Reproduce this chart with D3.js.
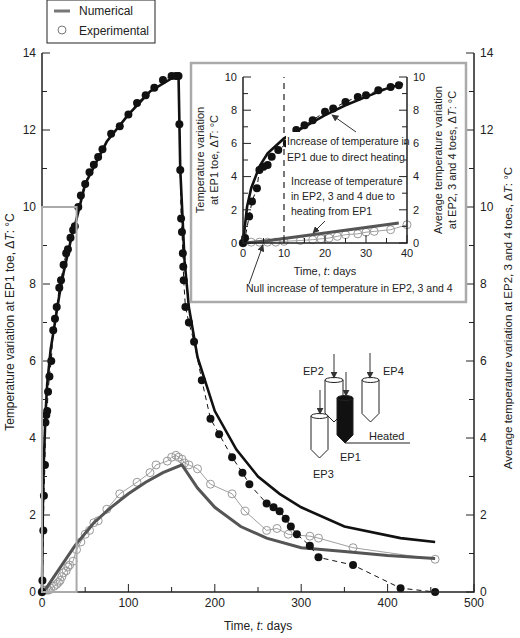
<!DOCTYPE html>
<html><head><meta charset="utf-8">
<script src="https://cdn.jsdelivr.net/npm/d3@7"></script>
<style>body{margin:0;background:#fff}text{font-family:"Liberation Sans",Arial,sans-serif;fill:#222}</style>
</head><body><div id="viz"></div>
<script>
var width = 520, height = 638;

// EP1 toe, experimental (days, dT)
var ep1Days = [0,0.5,1.5,2.2,3.4,4,5,6,7,8.6,10.7,13,15,17,20,22,25,28,30,33,36,38,42,45,50,55,60,65,70,80,90,100,110,120,130,140,150,155,158,
  159,160,161,162,163,163.5,164,166,170,176,185,195,205,220,232,240,260,268,275,282,288,295,310,320,360,415,455];
var ep1Exp = [0,0.3,1.6,2.5,3.3,4.4,4.6,4.7,5.2,5.6,6.0,6.8,7.1,7.4,7.9,8.1,8.5,8.8,8.9,9.2,9.4,9.5,10.0,10.3,10.6,10.9,11.1,11.3,11.5,11.9,12.1,12.4,12.7,12.9,13.1,13.3,13.4,13.4,13.4,
  12.15,10.96,9.7,9.35,8.8,8.45,8.1,7.4,7.0,6.5,5.5,4.5,4.1,3.5,3.1,2.8,2.3,2.2,2.1,1.9,1.7,1.5,1.2,0.9,0.7,0.1,0];
// EP1 toe, numerical
var ep1NumDays = [0,1,2,4,6,10,15,20,25,30,35,39,50,75,100,125,158,160,165,170,180,200,225,250,275,300,350,415,455];
var ep1Num = [0,2.2,3.3,4.6,5.4,6.3,7.0,7.7,8.3,8.8,9.3,9.6,10.6,11.7,12.4,13.0,13.45,11.0,8.6,7.4,6.1,4.7,3.7,3.0,2.55,2.2,1.7,1.4,1.3];
// EP2,3,4 average, experimental
var epAvgDays = [0,2,4,6,8,10,14,17,19,21,23,25,28,30,32,36,40,45,50,55,60,65,75,90,110,125,132,145,150,155,158,162,165,170,180,195,220,235,260,272,285,310,320,360,455];
var epAvgExp = [0,0.05,0.05,0.05,0.05,0.1,0.15,0.2,0.25,0.3,0.4,0.5,0.55,0.65,0.7,0.8,1.1,1.3,1.5,1.6,1.8,1.85,2.15,2.55,2.85,3.1,3.3,3.4,3.5,3.55,3.5,3.45,3.35,3.3,3.2,2.8,2.55,2.1,1.6,1.65,1.5,1.45,1.4,1.15,0.85];
// EP2,3,4 average, numerical
var epAvgNumDays = [0,5,20,38,60,80,100,120,140,162,180,200,230,260,300,350,400,455];
var epAvgNum = [0,0.1,0.6,1.2,1.8,2.2,2.55,2.85,3.1,3.3,2.7,2.2,1.7,1.4,1.15,1.05,0.95,0.87];

var xTicks = [0,100,200,300,400,500], yTicks = [0,2,4,6,8,10,12,14];
var inXTicks = [0,10,20,30,40], inYTicks = [0,2,4,6,8,10];

function zip(a, b) { return a.map(function(d, i) { return [d, b[i]]; }); }

var svg = d3.select('#viz').append('svg').attr('width', width).attr('height', height);

var x = d3.scaleLinear().domain([0, 500]).range([42, 474]);
var y = d3.scaleLinear().domain([0, 14]).range([592, 53]);

function axes(g, xs, ys, xt, yt, xMinor, yMinor, fs) {
  var r = xs.range(), b = ys.range();
  g.append('path').attr('d', 'M' + r[0] + ',' + b[1] + 'V' + b[0] + 'H' + r[1] + 'V' + b[1])
    .attr('fill', 'none').attr('stroke', '#222').attr('stroke-width', 1.5);
  d3.range(xs.domain()[0], xs.domain()[1] + 0.01, xMinor).forEach(function(v) {
    var big = xt.indexOf(v) >= 0;
    g.append('line').attr('x1', xs(v)).attr('x2', xs(v)).attr('y1', b[0]).attr('y2', b[0] - (big ? 8 : 5)).attr('stroke', '#222');
  });
  d3.range(ys.domain()[0], ys.domain()[1] + 0.01, yMinor).forEach(function(v) {
    var big = yt.indexOf(v) >= 0, l = big ? 8 : 5;
    g.append('line').attr('x1', r[0]).attr('x2', r[0] + l).attr('y1', ys(v)).attr('y2', ys(v)).attr('stroke', '#222');
    g.append('line').attr('x1', r[1]).attr('x2', r[1] - l).attr('y1', ys(v)).attr('y2', ys(v)).attr('stroke', '#222');
  });
  xt.forEach(function(v) {
    g.append('text').attr('x', xs(v)).attr('y', b[0] + fs + 3).attr('text-anchor', 'middle').attr('font-size', fs).text(v);
  });
  yt.forEach(function(v) {
    g.append('text').attr('x', r[0] - 6).attr('y', ys(v) + fs * 0.35).attr('text-anchor', 'end').attr('font-size', fs).text(v);
    g.append('text').attr('x', r[1] + 6).attr('y', ys(v) + fs * 0.35).attr('font-size', fs).text(v);
  });
}

function series(g, xs, ys, filt) {
  var line = d3.line().x(function(d) { return xs(d[0]); }).y(function(d) { return ys(d[1]); });
  var gA = zip(epAvgDays, epAvgExp).filter(filt), gN = zip(epAvgNumDays, epAvgNum).filter(filt);
  var bA = zip(ep1Days, ep1Exp).filter(filt), bN = zip(ep1NumDays, ep1Num).filter(filt);
  g.append('path').attr('d', line(gA)).attr('fill', 'none').attr('stroke', '#888').attr('stroke-width', 0.8);
  g.selectAll(null).data(gA).enter().append('circle').attr('cx', function(d) { return xs(d[0]); })
    .attr('cy', function(d) { return ys(d[1]); }).attr('r', 4).attr('fill', 'none').attr('stroke', '#999');
  g.append('path').attr('d', line(gN)).attr('fill', 'none').attr('stroke', '#555').attr('stroke-width', 3);
  g.append('path').attr('d', line(bA)).attr('fill', 'none').attr('stroke', '#111').attr('stroke-width', 1).attr('stroke-dasharray', '5,4');
  g.append('path').attr('d', line(bN)).attr('fill', 'none').attr('stroke', '#111').attr('stroke-width', 2.6);
  g.selectAll(null).data(bA).enter().append('circle').attr('cx', function(d) { return xs(d[0]); })
    .attr('cy', function(d) { return ys(d[1]); }).attr('r', 4).attr('fill', '#111');
}

var main = svg.append('g');
series(main, x, y, function() { return true; });
axes(main, x, y, xTicks, yTicks, 50, 1, 12);
main.append('rect').attr('x', x(0)).attr('y', y(10)).attr('width', x(40) - x(0)).attr('height', y(0) - y(10))
  .attr('fill', 'none').attr('stroke', '#aaa').attr('stroke-width', 2);

main.append('text').attr('x', 258).attr('y', 630).attr('text-anchor', 'middle').attr('font-size', 12)
  .html('Time, <tspan font-style="italic">t</tspan>: days');
main.append('text').attr('transform', 'translate(14,322) rotate(-90)').attr('text-anchor', 'middle').attr('font-size', 12)
  .html('Temperature variation at EP1 toe, Δ<tspan font-style="italic">T</tspan>: °C');
main.append('text').attr('transform', 'translate(512,318) rotate(-90)').attr('text-anchor', 'middle').attr('font-size', 11.5)
  .html('Average temperature variation at EP2, 3 and 4 toes, Δ<tspan font-style="italic">T</tspan>: °C');

// legend
var lg = svg.append('g');
lg.append('rect').attr('x', 47).attr('y', 0).attr('width', 108).attr('height', 43).attr('fill', '#fff').attr('stroke', '#222');
lg.append('line').attr('x1', 54).attr('x2', 70).attr('y1', 11).attr('y2', 11).attr('stroke', '#777').attr('stroke-width', 3);
lg.append('text').attr('x', 79).attr('y', 15).attr('font-size', 12).text('Numerical');
lg.append('circle').attr('cx', 62).attr('cy', 30).attr('r', 4).attr('fill', 'none').attr('stroke', '#777');
lg.append('text').attr('x', 79).attr('y', 35).attr('font-size', 12).text('Experimental');

// inset
var ins = svg.append('g');
ins.append('rect').attr('x', 191).attr('y', 63).attr('width', 275).attr('height', 239).attr('fill', '#fff').attr('stroke', '#aaa').attr('stroke-width', 2.5);
var ix = d3.scaleLinear().domain([0, 40]).range([243, 407]);
var iy = d3.scaleLinear().domain([0, 10]).range([243, 77]);
ins.append('line').attr('x1', ix(10)).attr('x2', ix(10)).attr('y1', iy(0)).attr('y2', iy(10)).attr('stroke', '#222').attr('stroke-dasharray', '6,5').attr('stroke-width', 1.2);
series(ins, ix, iy, function(d) { return d[0] <= 40; });
axes(ins, ix, iy, inXTicks, inYTicks, 5, 1, 11);
ins.append('text').attr('x', 325).attr('y', 275).attr('text-anchor', 'middle').attr('font-size', 11).html('Time, <tspan font-style="italic">t</tspan>: days');
ins.append('text').attr('transform', 'translate(204,160) rotate(-90)').attr('text-anchor', 'middle').attr('font-size', 11)
  .text('Temperature variation');
ins.append('text').attr('transform', 'translate(218,160) rotate(-90)').attr('text-anchor', 'middle').attr('font-size', 11)
  .html('at EP1 toe, Δ<tspan font-style="italic">T</tspan>: °C');
ins.append('text').attr('transform', 'translate(442,160) rotate(-90)').attr('text-anchor', 'middle').attr('font-size', 11)
  .text('Average temperature variation');
ins.append('text').attr('transform', 'translate(456,160) rotate(-90)').attr('text-anchor', 'middle').attr('font-size', 11)
  .html('at EP2, 3 and 4 toes, Δ<tspan font-style="italic">T</tspan>: °C');

var defs = svg.append('defs');
defs.append('marker').attr('id', 'ah').attr('viewBox', '0 0 10 10').attr('refX', 9).attr('refY', 5)
  .attr('markerWidth', 7).attr('markerHeight', 7).attr('orient', 'auto')
  .append('path').attr('d', 'M0,0L10,5L0,10z').attr('fill', '#333');
function arrow(x1, y1, x2, y2) {
  svg.append('line').attr('x1', x1).attr('y1', y1).attr('x2', x2).attr('y2', y2).attr('stroke', '#333').attr('marker-end', 'url(#ah)');
}
var note = svg.append('g');
note.append('rect').attr('x', 286).attr('y', 132).attr('width', 118).attr('height', 32).attr('fill', '#fff');
note.append('text').attr('x', 287).attr('y', 145).attr('font-size', 10.5).text('Increase of temperature in');
note.append('text').attr('x', 287).attr('y', 161).attr('font-size', 10.5).text('EP1 due to direct heating');
arrow(356, 132, 332, 115);
note.append('rect').attr('x', 288).attr('y', 173).attr('width', 110).attr('height', 46).attr('fill', '#fff');
['Increase of temperature', 'in EP2, 3 and 4 due to', 'heating from EP1'].forEach(function(t, i) {
  note.append('text').attr('x', 291).attr('y', 185 + i * 15).attr('font-size', 10.5).text(t);
});
arrow(325, 221, 313, 233);
note.append('text').attr('x', 246).attr('y', 292).attr('font-size', 10.5).text('Null increase of temperature in EP2, 3 and 4');
arrow(249, 284, 263, 245);

// schematic of piles
var sc = svg.append('g').attr('stroke', '#222').attr('stroke-width', 1);
function pile(x0, top, w, h, fill) {
  var r = w / 2;
  sc.append('path').attr('d', 'M' + x0 + ',' + top + 'V' + (top + h - r) + 'L' + (x0 + r) + ',' + (top + h) + 'L' + (x0 + w) + ',' + (top + h - r) + 'V' + top)
    .attr('fill', fill);
  sc.append('ellipse').attr('cx', x0 + r).attr('cy', top).attr('rx', r).attr('ry', 2.5).attr('fill', fill);
}
pile(325, 380, 18, 42, '#fff');
pile(362, 380, 17, 42, '#fff');
pile(337, 398, 16, 45, '#111');
pile(311, 416, 17, 42, '#fff');
sc.append('line').attr('x1', 345).attr('x2', 410).attr('y1', 443).attr('y2', 443);
[[334, 354, 378], [346, 372, 396], [370, 353, 378], [320, 390, 414]].forEach(function(a) { arrow(a[0], a[1], a[0], a[2]); });
[['EP2', 303, 375], ['EP4', 383, 375], ['EP1', 340, 461], ['EP3', 313, 478], ['Heated', 369, 440]].forEach(function(a) {
  svg.append('text').attr('x', a[1]).attr('y', a[2]).attr('font-size', 11).text(a[0]);
});
</script></body></html>
